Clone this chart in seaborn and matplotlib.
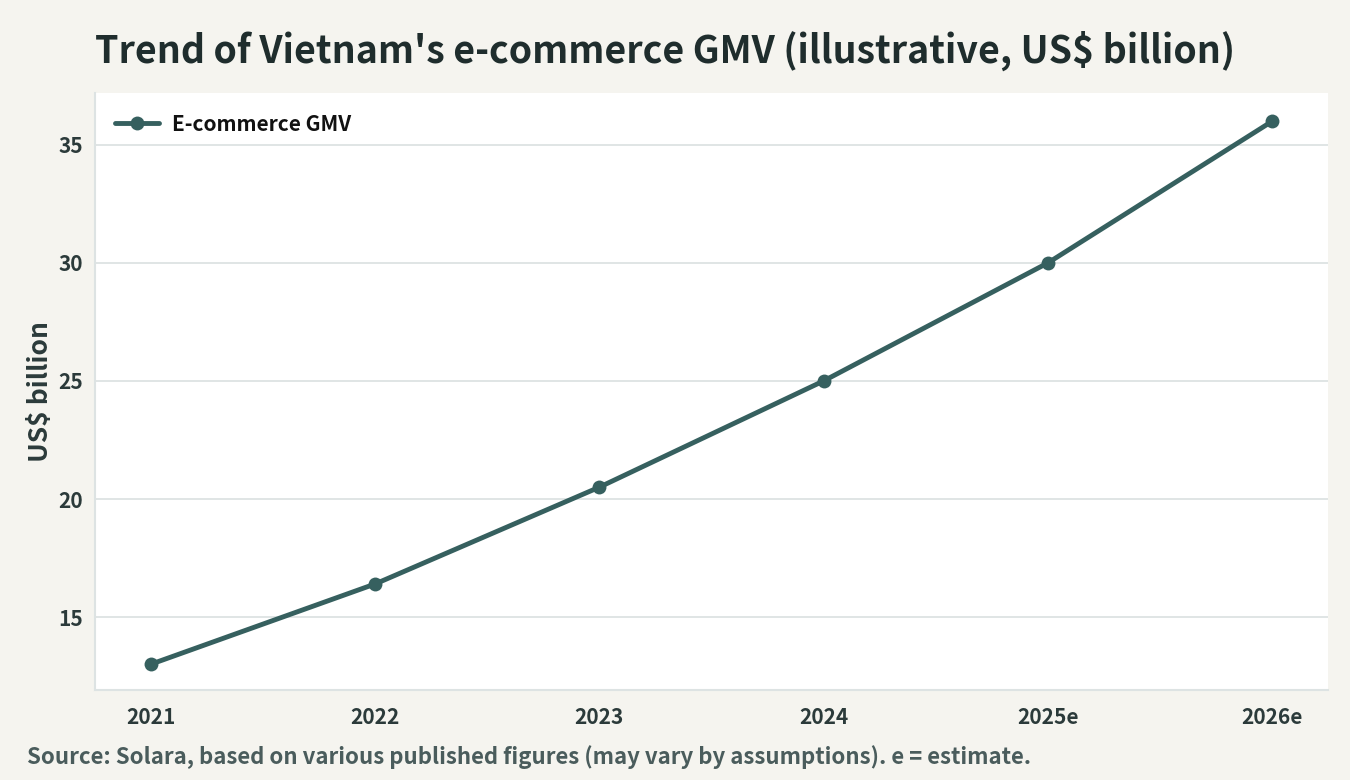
import pandas as pd
import matplotlib.pyplot as plt
import seaborn as sns

years = ["2021", "2022", "2023", "2024", "2025e", "2026e"]
gmv = [13.0, 16.4, 20.5, 25.0, 30.0, 36.0]
yticks = [15, 20, 25, 30, 35]

df = pd.DataFrame({"year": years, "gmv": gmv})

line_color = "#36605f"
bg = "#f5f4ef"
text_dark = "#1f2d2d"

sns.set_theme(style="whitegrid")
plt.rcParams["font.family"] = ["Noto Sans CJK SC", "DejaVu Sans"]

fig, ax = plt.subplots(figsize=(13.5, 7.8), dpi=100)
fig.patch.set_facecolor(bg)
ax.set_facecolor("white")

sns.lineplot(data=df, x="year", y="gmv", ax=ax, color=line_color, linewidth=3.5,
             marker="o", markersize=10, markeredgewidth=0, label="E-commerce GMV", sort=False)

ax.set_xlim(-0.25, 5.25)
ax.set_ylim(11.9, 37.2)
ax.set_yticks(yticks)
ax.grid(axis="y", color="#dde3e3", linewidth=1.3)
ax.grid(axis="x", visible=False)

for side in ["top", "right"]:
    ax.spines[side].set_visible(False)
for side in ["left", "bottom"]:
    ax.spines[side].set_color("#dde3e3")
    ax.spines[side].set_linewidth(1.5)

ax.tick_params(axis="both", length=5, width=1, color=text_dark, labelsize=15, labelcolor="#2b3a3a")
ax.tick_params(axis="x", pad=7)
for lab in ax.get_xticklabels() + ax.get_yticklabels():
    lab.set_fontweight("bold")

ax.set_xlabel("")
ax.set_ylabel("US$ billion", fontsize=19, fontweight="bold", color="#2b3a3a", labelpad=3)

leg = ax.legend(loc="upper left", frameon=False, prop={"weight": "bold", "size": 15},
                handlelength=2.1, handletextpad=0.6, borderaxespad=0.6)
for t in leg.get_texts():
    t.set_color("#111111")

fig.text(0.07, 0.935, "Trend of Vietnam's e-commerce GMV (illustrative, US$ billion)",
         fontsize=27, fontweight="bold", color=text_dark, va="center")
fig.text(0.02, 0.03, "Source: Solara, based on various published figures (may vary by assumptions). e = estimate.",
         fontsize=16, fontweight="bold", color="#4a5c5c", va="center")

fig.subplots_adjust(left=0.07, right=0.984, top=0.881, bottom=0.115)
fig.savefig("out.png", dpi=100, facecolor=bg)
